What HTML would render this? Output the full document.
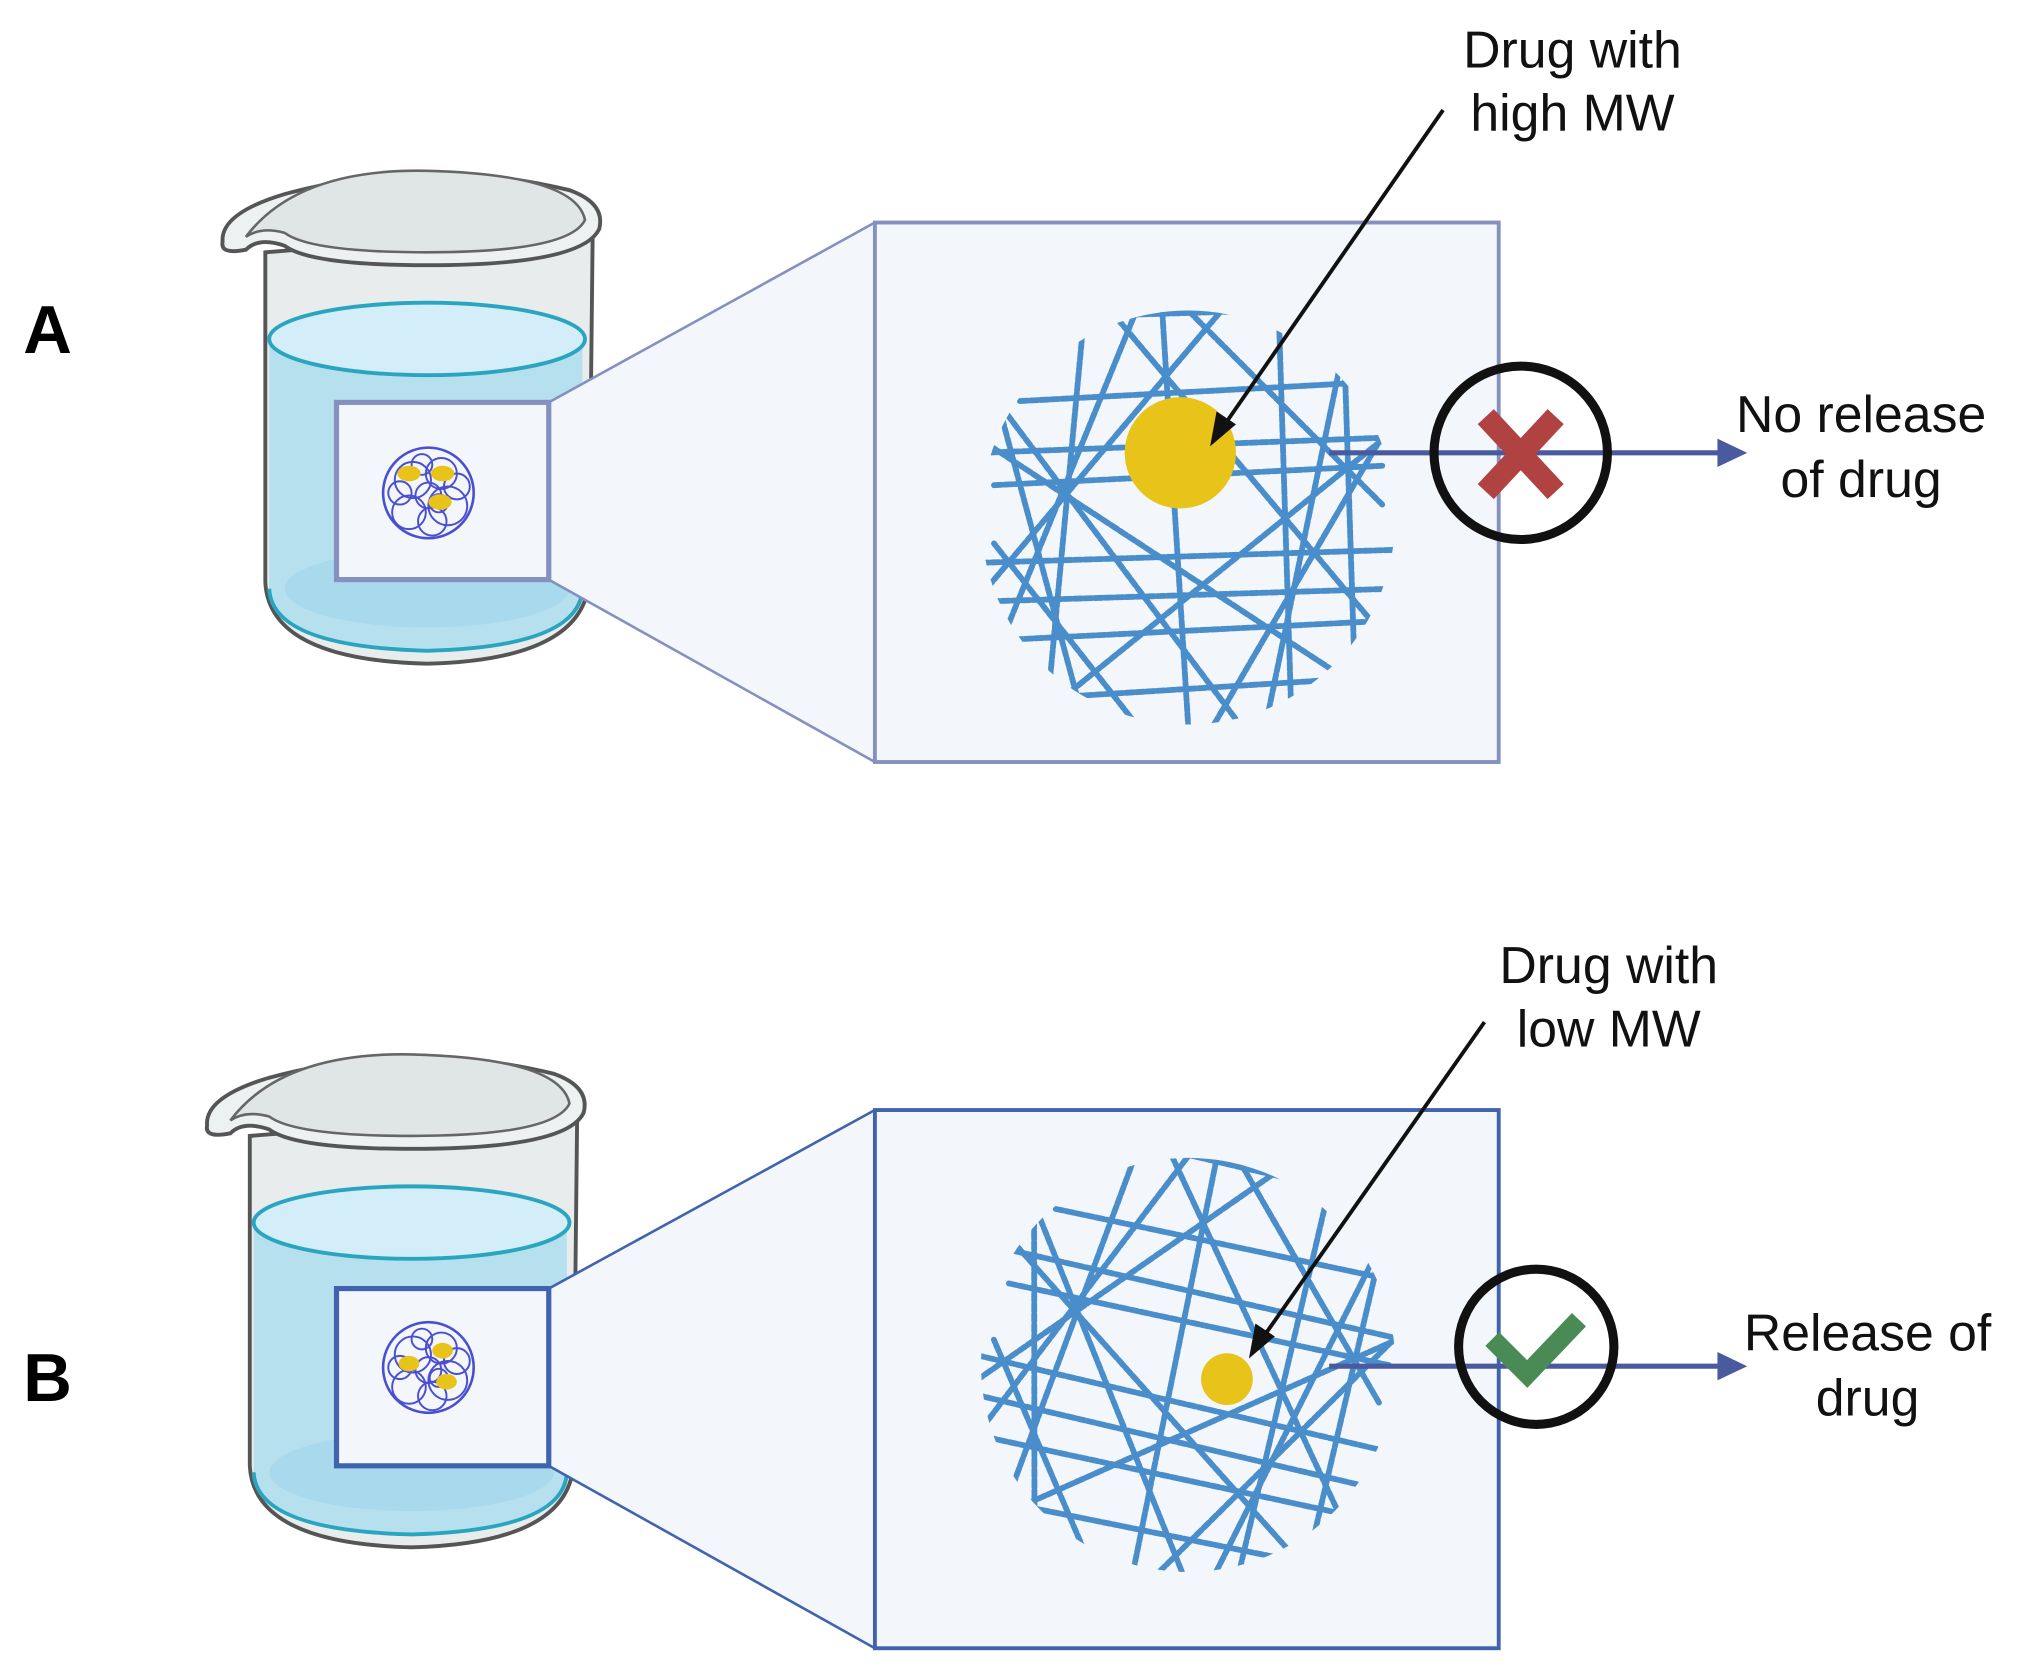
<!DOCTYPE html>
<html><head><meta charset="utf-8"><style>
html,body{margin:0;padding:0;background:#fff;}
svg{display:block;}
text{font-family:"Liberation Sans",sans-serif;}
</style></head><body>
<svg width="2019" height="1678" viewBox="0 0 1560 1297" preserveAspectRatio="none" xmlns="http://www.w3.org/2000/svg">
<defs>
<clipPath id="cc"><circle cx="0" cy="0" r="160"/></clipPath>
<g id="net" clip-path="url(#cc)" fill="none" stroke="#4a8dcb" stroke-width="4.5" stroke-linecap="round" stroke-dasharray="6 2">
  <path d="M-100,-155 L60,-160"/>
  <path d="M-150,-25 L150,-40"/>
  <path d="M-160,35 L160,25"/>
  <path d="M-150,95 L150,80"/>
  <path d="M-130,-90 L150,-105"/>
  <path d="M-120,140 L120,125"/>
  <path d="M-160,-50 L160,-62"/>
  <path d="M-160,65 L160,55"/>
  <path d="M-80,-160 L-110,160"/>
  <path d="M-20,-160 L0,160"/>
  <path d="M70,-160 L80,160"/>
  <path d="M120,-150 L130,160"/>
  <path d="M-150,-100 L-80,160"/>
  <path d="M120,-130 L60,160"/>
  <path d="M-160,60 L30,-165"/>
  <path d="M-60,-160 L150,90"/>
  <path d="M-110,150 L150,-60"/>
  <path d="M-160,-60 L130,130"/>
  <path d="M0,-160 L150,-10"/>
  <path d="M-150,110 L-40,-160"/>
  <path d="M20,160 L160,-80"/>
  <path d="M-40,160 L-150,20"/>
  <path d="M-140,-80 L40,160"/>
</g>
<g id="beaker">
  <path d="M-115,30 L-115,285 Q-112,345 10,348 Q130,345 135,285 L138,10 Z" fill="#e8eced" stroke="#555" stroke-width="3"/>
  <path d="M-148,22 Q-150,0 -100,-15 Q10,-45 120,-18 Q148,-8 143,12 Q130,40 10,40 Q-80,40 -100,25 Q-120,18 -130,28 Q-150,32 -148,22 Z" fill="#eef1f2" stroke="#555" stroke-width="3"/>
  <path d="M-130,18 Q-90,-35 10,-33 Q125,-30 132,5 Q120,30 10,30 Q-80,30 -100,15 Q-118,10 -130,18 Z" fill="#e0e5e6" stroke="#666" stroke-width="2"/>
  <path d="M-112,97 L-112,290 Q-110,335 10,338 Q128,335 130,290 L130,97 Z" fill="#b7e0ef"/>
  <ellipse cx="10" cy="97" rx="122" ry="28" fill="#d3eef8" stroke="#2aa5c0" stroke-width="3"/>
  <path d="M-112,290 Q-110,335 10,338 Q128,335 130,290" fill="none" stroke="#2aa5c0" stroke-width="3"/>
  <ellipse cx="10" cy="290" rx="110" ry="30" fill="#a8d9ec"/>
</g>
<g id="minigel">
  <circle cx="0" cy="0" r="35" fill="#f3f6fb" stroke="#4a4ed0" stroke-width="2"/>
  <g fill="none" stroke="#4a4ed0" stroke-width="1.5">
   <circle cx="-12" cy="-10" r="14"/><circle cx="10" cy="-15" r="12"/><circle cx="15" cy="10" r="15"/><circle cx="-15" cy="15" r="13"/><circle cx="0" cy="2" r="10"/><circle cx="-22" cy="0" r="9"/><circle cx="22" cy="-5" r="10"/><circle cx="3" cy="22" r="11"/><circle cx="-5" cy="-22" r="8"/><circle cx="8" cy="8" r="7"/>
  </g>
</g>
</defs>
<rect width="1560" height="1297" fill="#fff"/>

<!-- Panel A -->
<text x="18" y="273" font-size="52" font-weight="bold" fill="#000">A</text>
<use href="#beaker" x="320" y="165"/>
<polygon points="424,311 676,172 676,589 424,448" fill="#f3f6fb"/>
<line x1="424" y1="311" x2="676" y2="172" stroke="#8590be" stroke-width="2"/>
<line x1="424" y1="448" x2="676" y2="589" stroke="#8590be" stroke-width="2"/>
<rect x="260" y="311" width="164" height="137" fill="#f3f6fb" stroke="#8590be" stroke-width="4"/>
<use href="#minigel" x="331" y="381"/>
<ellipse cx="316" cy="366" rx="9" ry="6" fill="#e8c31a"/>
<ellipse cx="342" cy="366" rx="9" ry="6" fill="#e8c31a"/>
<ellipse cx="340" cy="388" rx="9" ry="6" fill="#e8c31a"/>
<rect x="676" y="172" width="482" height="417" fill="#f3f6fb" stroke="#8590be" stroke-width="3"/>
<use href="#net" x="918" y="400"/>
<circle cx="912" cy="350" r="43" fill="#e8c31a"/>
<line x1="1115" y1="85" x2="945" y2="330" stroke="#111" stroke-width="3"/>
<polygon points="935,345 940,318 955,328" fill="#111"/>
<text x="1215" y="52" font-size="40" text-anchor="middle" fill="#111">Drug with</text>
<text x="1215" y="101" font-size="40" text-anchor="middle" fill="#111">high MW</text>
<line x1="1027" y1="350" x2="1330" y2="350" stroke="#4a5a9e" stroke-width="4"/>
<polygon points="1350,350 1327,339 1327,361" fill="#4a5a9e"/>
<circle cx="1175" cy="350" r="67" fill="none" stroke="#111" stroke-width="7"/>
<path d="M1148,322 L1202,380 M1202,322 L1148,380" stroke="#b04242" stroke-width="17"/>
<text x="1438" y="334" font-size="40" text-anchor="middle" fill="#111">No release</text>
<text x="1438" y="384" font-size="40" text-anchor="middle" fill="#111">of drug</text>

<!-- Panel B -->
<text x="18" y="1083" font-size="52" font-weight="bold" fill="#000">B</text>
<use href="#beaker" x="308" y="848"/>
<polygon points="424,996 676,858 676,1274 424,1133" fill="#f3f6fb"/>
<line x1="424" y1="996" x2="676" y2="858" stroke="#3f63ad" stroke-width="2"/>
<line x1="424" y1="1133" x2="676" y2="1274" stroke="#3f63ad" stroke-width="2"/>
<rect x="260" y="996" width="164" height="137" fill="#f3f6fb" stroke="#3f63ad" stroke-width="4"/>
<use href="#minigel" x="331" y="1057"/>
<ellipse cx="316" cy="1054" rx="8" ry="6" fill="#e8c31a"/>
<ellipse cx="342" cy="1044" rx="8" ry="6" fill="#e8c31a"/>
<ellipse cx="345" cy="1068" rx="8" ry="6" fill="#e8c31a"/>
<rect x="676" y="858" width="482" height="416" fill="#f3f6fb" stroke="#3f63ad" stroke-width="3"/>
<g transform="translate(918,1055) rotate(15)"><use href="#net"/></g>
<circle cx="948" cy="1066" r="20" fill="#e8c31a"/>
<line x1="1147" y1="790" x2="975" y2="1035" stroke="#111" stroke-width="3"/>
<polygon points="965,1050 970,1023 985,1033" fill="#111"/>
<text x="1243" y="760" font-size="40" text-anchor="middle" fill="#111">Drug with</text>
<text x="1243" y="809" font-size="40" text-anchor="middle" fill="#111">low MW</text>
<line x1="1027" y1="1056" x2="1330" y2="1056" stroke="#4a5a9e" stroke-width="4"/>
<polygon points="1350,1056 1327,1045 1327,1067" fill="#4a5a9e"/>
<circle cx="1187" cy="1041" r="60" fill="none" stroke="#111" stroke-width="7"/>
<path d="M1153,1035 L1180,1062 L1220,1020" fill="none" stroke="#4a8a55" stroke-width="15"/>
<text x="1443" y="1044" font-size="40" text-anchor="middle" fill="#111">Release of</text>
<text x="1443" y="1094" font-size="40" text-anchor="middle" fill="#111">drug</text>
</svg>
</body></html>
